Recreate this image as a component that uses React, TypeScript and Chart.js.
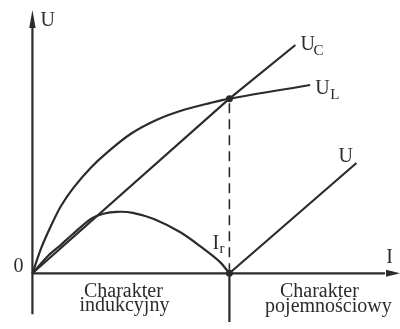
import { useEffect, useRef } from 'react';
import { Chart, registerables } from 'chart.js';

Chart.register(...registerables);

// Current I (arbitrary units, I_r = 10) and voltages U (arbitrary units)
const uLCurrent = [0, 0.45, 0.95, 1.45, 2.1, 2.95, 3.8, 5, 6.35, 7.7, 9, 10, 14.1];
const uLVoltage = [0, 1.3, 2.45, 3.45, 4.4, 5.4, 6.2, 7.15, 7.88, 8.38, 8.72, 8.95, 9.65];

const uCCurrent = [0, 10, 13.35];
const uCVoltage = [0, 8.95, 11.7];

const uIndCurrent = [0, 0.8, 1.46, 2.04, 2.95, 3.6, 4.3, 5.1, 6.17, 7.51, 8.5, 9.5, 10];
const uIndVoltage = [0, 0.9, 1.47, 2.0, 2.78, 3.05, 3.15, 3.1, 2.78, 2.1, 1.4, 0.6, 0];

const uCapCurrent = [10, 16.45];
const uCapVoltage = [0, 5.65];

const resonanceCurrent = 10;
const resonanceVoltage = 8.95;

const seriesNames = ['U', 'C', 'L'];
const axisNames = ['U', 'I', '0'];
const resonanceName = ['I', 'r'];
const leftRegion = ['Charakter', 'indukcyjny'];
const rightRegion = ['Charakter', 'pojemnościowy'];

const pts = (xs: number[], ys: number[]) => xs.map((x, i) => ({ x, y: ys[i] }));

export default function App() {
  const ref = useRef<HTMLCanvasElement>(null);

  useEffect(() => {
    document.body.style.margin = '0';
    const ink = '#2b2b2b';
    const line = (data: any, extra: any = {}) => ({
      type: 'line',
      data,
      borderColor: ink,
      backgroundColor: ink,
      borderWidth: 2.2,
      pointRadius: 0,
      fill: false,
      tension: 0,
      ...extra,
    });

    const annot = {
      id: 'annot',
      afterDatasetsDraw(chart: any) {
        const ctx = chart.ctx as CanvasRenderingContext2D;
        const sx = (v: number) => chart.scales.x.getPixelForValue(v);
        const sy = (v: number) => chart.scales.y.getPixelForValue(v);
        ctx.save();
        ctx.fillStyle = ink;
        const ox = sx(0);
        const oy = sy(0);
        ctx.beginPath();
        ctx.moveTo(ox, 10);
        ctx.lineTo(ox - 3.2, 28);
        ctx.lineTo(ox + 3.2, 28);
        ctx.closePath();
        ctx.fill();
        ctx.beginPath();
        ctx.moveTo(400, oy);
        ctx.lineTo(386, oy - 3.5);
        ctx.lineTo(386, oy + 3.5);
        ctx.closePath();
        ctx.fill();

        const T = (text: string, x: number, y: number, size: number, align: CanvasTextAlign = 'left') => {
          ctx.font = `${size}px "Liberation Serif", "DejaVu Serif", serif`;
          ctx.textAlign = align;
          ctx.textBaseline = 'alphabetic';
          ctx.fillText(text, x, y);
        };
        T(axisNames[0], ox + 8, 26, 20);
        T(axisNames[1], 389.5, oy - 10, 20, 'center');
        T(axisNames[2], ox - 9, oy - 1, 20, 'right');
        const cx = sx(uCCurrent[uCCurrent.length - 1]);
        const cy = sy(uCVoltage[uCVoltage.length - 1]);
        T(seriesNames[0], cx + 5, cy + 5, 20);
        T(seriesNames[1], cx + 18, cy + 10, 15);
        const lx = sx(uLCurrent[uLCurrent.length - 1]);
        const ly = sy(uLVoltage[uLVoltage.length - 1]);
        T(seriesNames[0], lx + 5, ly + 9, 20);
        T(seriesNames[2], lx + 20, ly + 14, 15);
        const ux = sx(uCapCurrent[uCapCurrent.length - 1]);
        const uy = sy(uCapVoltage[uCapVoltage.length - 1]);
        T(seriesNames[0], ux - 18, uy - 1, 20);
        const rx = sx(resonanceCurrent);
        T(resonanceName[0], rx - 17, oy - 24, 20);
        T(resonanceName[1], rx - 10, oy - 20, 15);
        T(leftRegion[0], rx - 106, oy + 24, 20, 'center');
        T(leftRegion[1], rx - 105, oy + 38, 20, 'center');
        T(rightRegion[0], rx + 90, oy + 24, 20, 'center');
        T(rightRegion[1], rx + 99, oy + 39, 20, 'center');
        ctx.restore();
      },
    };

    const chart = new Chart(ref.current as HTMLCanvasElement, {
      type: 'line',
      data: {
        datasets: [
          line([{ x: 0, y: -2.1 }, { x: 0, y: 12.6 }]),
          line([{ x: 0, y: 0 }, { x: 17.9, y: 0 }]),
          line([{ x: resonanceCurrent, y: 0 }, { x: resonanceCurrent, y: -2.5 }]),
          line([{ x: resonanceCurrent, y: 0 }, { x: resonanceCurrent, y: resonanceVoltage }], {
            borderDash: [10, 6],
            borderWidth: 1.6,
          }),
          line(pts(uCCurrent, uCVoltage)),
          line(pts(uLCurrent, uLVoltage), { tension: 0.3 }),
          line(pts(uIndCurrent, uIndVoltage), { tension: 0.3 }),
          line(pts(uCapCurrent, uCapVoltage)),
          line(
            [
              { x: resonanceCurrent, y: resonanceVoltage },
              { x: resonanceCurrent, y: 0 },
            ],
            { showLine: false, pointRadius: 3.5, pointBackgroundColor: ink, pointBorderWidth: 0 }
          ),
        ] as any,
      },
      options: {
        animation: false,
        responsive: false,
        events: [],
        layout: { padding: 0 },
        plugins: { legend: { display: false }, tooltip: { enabled: false } },
        scales: {
          x: { type: 'linear', min: -1.443, max: 18.458, display: false },
          y: { type: 'linear', min: -2.65, max: 13.8, display: false },
        },
      } as any,
      plugins: [annot],
    });
    return () => chart.destroy();
  }, []);

  return (
    <div style={{ width: 400, height: 329 }}>
      <canvas ref={ref} width={400} height={329} style={{ display: 'block' }} />
    </div>
  );
}
